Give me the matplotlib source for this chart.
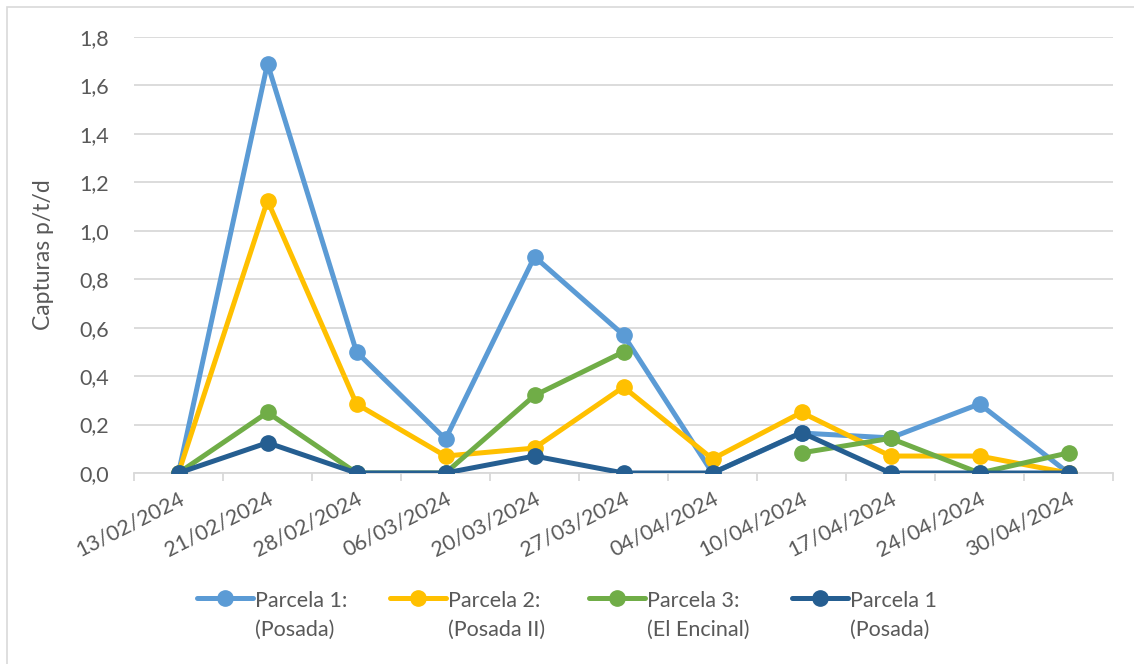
import numpy as np
import matplotlib
matplotlib.use('Agg')
import matplotlib.pyplot as plt
from matplotlib.patches import Rectangle

# Sampling dates (category axis)
fechas = ['13/02/2024', '21/02/2024', '28/02/2024', '06/03/2024', '20/03/2024', '27/03/2024',
          '04/04/2024', '10/04/2024', '17/04/2024', '24/04/2024', '30/04/2024']

# Captures per trap per day
parcela1 = [0.0, 1.69, 0.5, 0.14, 0.893, 0.57, 0.0, 0.165, 0.145, 0.285, 0.0]
parcela2 = [0.0, 1.125, 0.285, 0.07, 0.103, 0.355, 0.058, 0.25, 0.07, 0.07, 0.0]
parcela3 = [0.0, 0.25, 0.0, 0.0, 0.32, 0.5, np.nan, 0.083, 0.143, 0.0, 0.083]
parcela1b = [0.0, 0.125, 0.0, 0.0, 0.07, 0.0, 0.0, 0.167, 0.0, 0.0, 0.0]

series_names = ['Parcela 1:\n(Posada)', 'Parcela 2:\n(Posada II)',
                'Parcela 3:\n(El Encinal)', 'Parcela 1\n(Posada)']
y_ticks = [0.0, 0.2, 0.4, 0.6, 0.8, 1.0, 1.2, 1.4, 1.6, 1.8]

colors = ['#5B9BD5', '#FFC000', '#70AD47', '#255E91']
text_color = '#595959'
grid_color = '#D9D9D9'

plt.rcParams['font.family'] = ['Lato', 'DejaVu Sans']

fig = plt.figure(figsize=(11.34, 6.64), dpi=100)
ax = fig.add_axes([134 / 1134, 1 - 473 / 664, (1113 - 134) / 1134, (473 - 37) / 664])

# chart border
fig.patches.append(Rectangle((7 / 1134, -0.05), 1.1, 0.05 + (664 - 7) / 664, transform=fig.transFigure,
                             fill=False, edgecolor=grid_color, linewidth=1.2))

xs = np.arange(len(fechas))
for vals, name, col in zip([parcela1, parcela2, parcela3, parcela1b], series_names, colors):
    ax.plot(xs, vals, color=col, linewidth=3.6, marker='o', markersize=11,
            label=name, solid_capstyle='round', zorder=3)

ax.set_xlim(-0.5, len(fechas) - 0.5)
ax.set_ylim(0, 1.8)
ax.set_yticks(y_ticks)
ax.set_yticklabels([f'{v:.1f}'.replace('.', ',') for v in y_ticks])
ax.yaxis.grid(True, color=grid_color, linewidth=1.3)
ax.set_axisbelow(True)

ax.set_xticks(xs)
ax.set_xticklabels(fechas, rotation=27, ha='right', rotation_mode='anchor')
ax.set_xticks(np.arange(-0.5, len(fechas), 1), minor=True)
ax.tick_params(axis='x', which='major', length=0, pad=11, labelsize=15.5, labelcolor=text_color)
ax.tick_params(axis='x', which='minor', length=6, width=1.3, color=grid_color)
ax.tick_params(axis='y', length=0, pad=18, labelsize=15.5, labelcolor=text_color)

for s in ['top', 'right', 'left']:
    ax.spines[s].set_visible(False)
ax.spines['bottom'].set_color(grid_color)
ax.spines['bottom'].set_linewidth(1.3)

ax.set_ylabel('Capturas p/t/d', fontsize=16.5, color=text_color, labelpad=18)

leg = fig.legend(loc='center', bbox_to_anchor=(0.5, 1 - 615 / 664), ncol=4, frameon=False,
                 fontsize=15.5, labelcolor=text_color, handlelength=2.6, handletextpad=0.1,
                 columnspacing=2.0)
for t in leg.get_texts():
    t.set_linespacing(1.55)
    t.set_multialignment('left')
# put the handle level with the first line of each label
for col in leg._legend_handle_box.get_children():
    for entry in col.get_children():
        entry.align = 'top'

fig.savefig('out.png', dpi=100)
